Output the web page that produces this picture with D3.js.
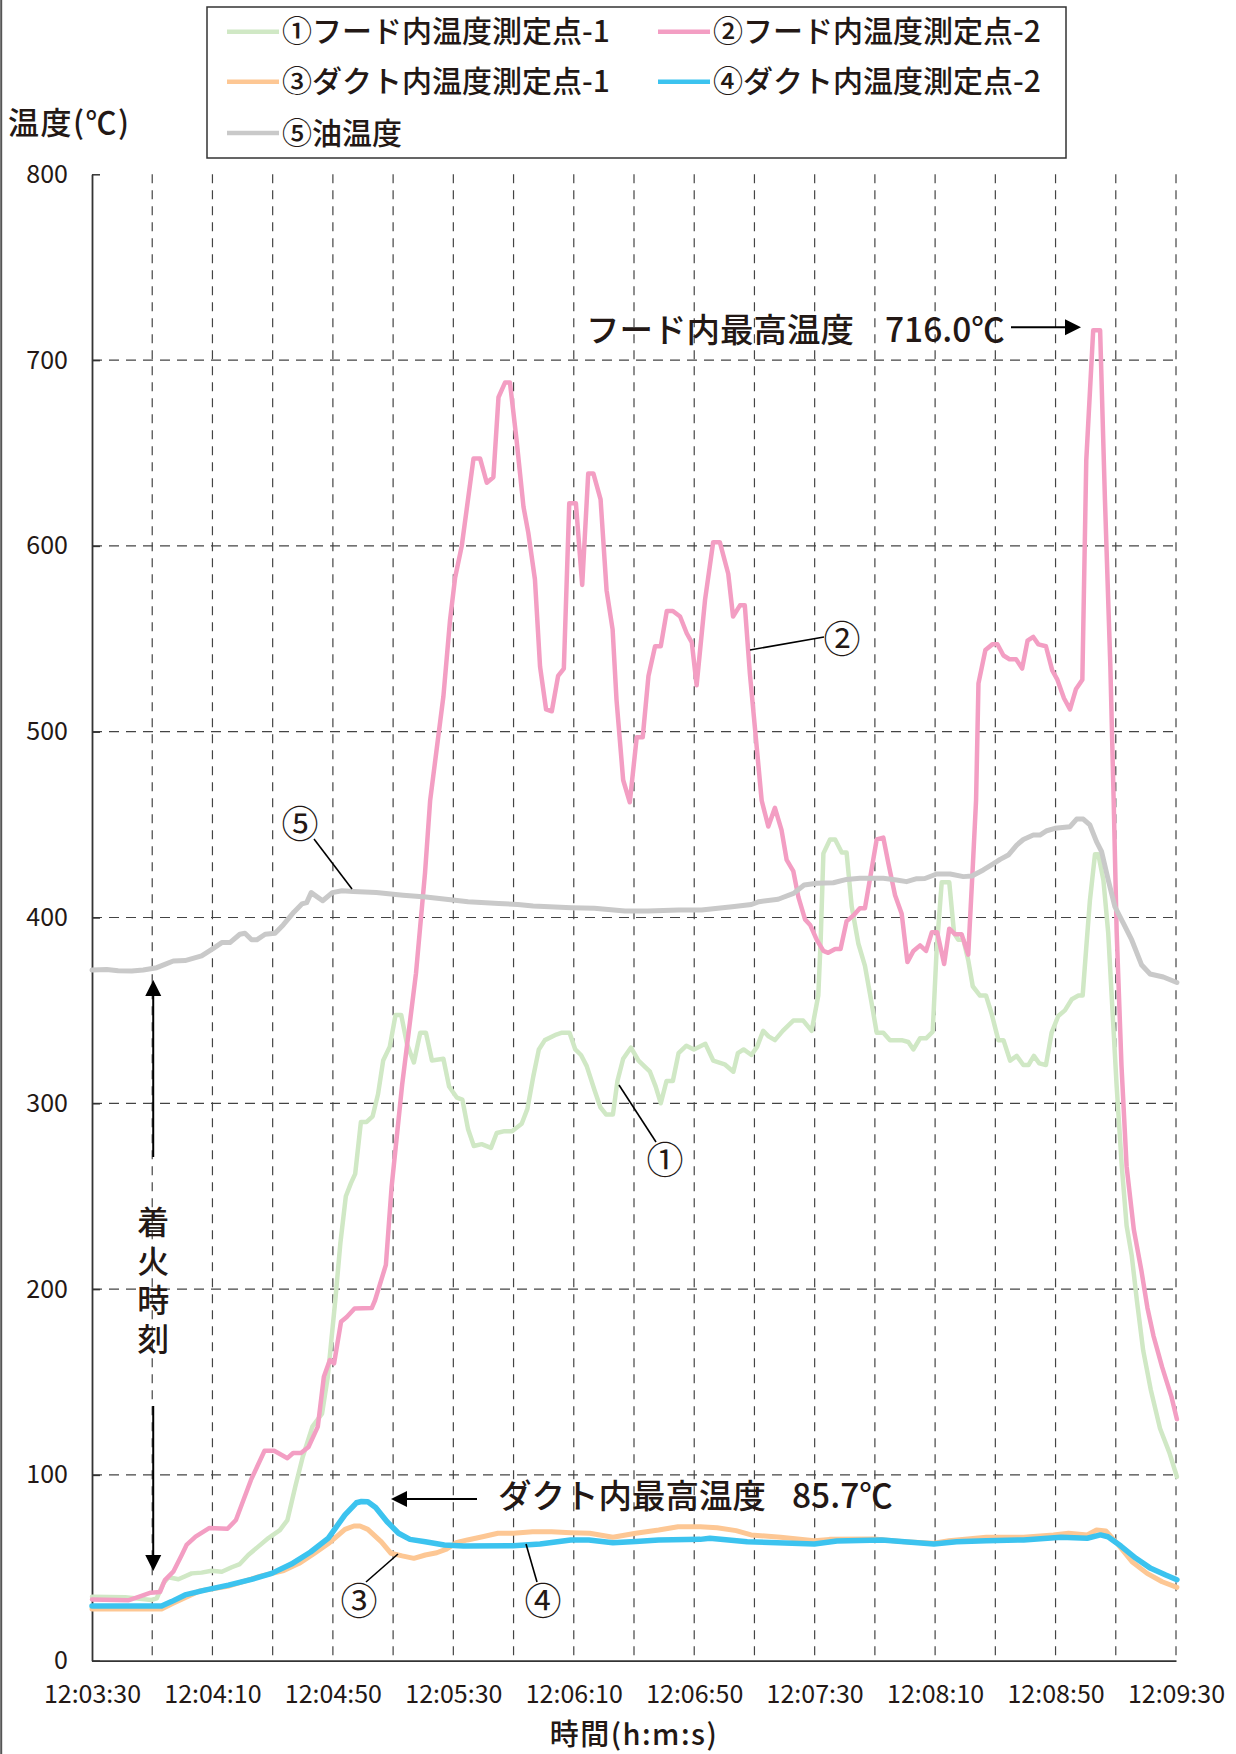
<!DOCTYPE html>
<html>
<head>
<meta charset="utf-8">
<script src="https://cdn.jsdelivr.net/npm/d3@7"></script>
<style>
  body { margin: 0; background: #fff; }
  text { font-family: "Noto Sans CJK JP", "Noto Sans", sans-serif; fill: #231815; }
</style>
</head>
<body>
<div id="chart"></div>
<script>

// CHART DATA  (seconds after 12:03:30, temperature in °C)

const seriesNames = ["①フード内温度測定点-1", "②フード内温度測定点-2", "③ダクト内温度測定点-1",
                     "④ダクト内温度測定点-2", "⑤油温度"];

const hood1 = [[0,34.4],[11,34.1],[19.8,32.7],[21.5,33.6],[23.7,41.7],[25.4,44.9],[28.7,43.8],[33.1,47],
  [36.4,47.4],[39.7,48.4],[43.1,47.9],[46.4,50.3],[49.1,52],[51.9,56.9],[55.2,61.4],[58.6,66],[62.4,70.3],
  [64.9,75.7],[67.5,93.6],[70,109.8],[73.2,126],[76.4,133],[78.3,152.8],[79.5,172.6],[80.8,194],[82.5,225],
  [84.3,250],[86,257],[87.4,262],[89.3,290],[91.2,290],[93.2,293],[95,305],[96.7,323],[98.9,330.5],
  [100.8,347.5],[102.7,347.5],[104.6,332],[106.9,322],[109,338],[110.9,338],[112.9,323],[116.7,324],
  [118.6,309],[121.2,303],[123,302],[124.9,286],[126.8,277],[129.4,278],[132.5,276],[134.4,284],[137,285],
  [139.5,285],[142.7,289],[144.6,297],[146.5,314],[148.4,329],[150.4,334],[154.2,337],[156.1,338],
  [158.6,338],[160.5,329],[162.4,326],[164.3,320],[166.9,307],[168.8,298],[170.7,294],[173,294],
  [174.5,312],[176.4,324],[179,330],[181.5,323],[185.3,317],[187.2,309],[188.9,300],[190.8,312],
  [192.9,312],[194.8,327],[197.4,331],[199.9,329],[203.7,332],[206.3,323],[210.1,321],[213,317],
  [214.5,327],[216.4,329],[219,326],[220.9,330.5],[222.9,339],[224.7,336],[226.8,334],[229.4,339],
  [232.9,344.5],[236.2,344.5],[239,339],[241.2,358],[242,388],[242.9,434.5],[245.1,442],[246.8,442],
  [249,435],[250.6,435],[252.3,406],[254.5,386],[256.7,374],[258.9,354],[260.6,338],[262.8,338],[265,334],
  [268.9,334],[271.1,333],[272.8,329],[275,335],[277,335],[279.2,338.5],[280.5,382.5],[282.2,419],
  [284.7,419],[286.3,391.5],[287.7,388],[289.4,388],[291,377],[292.5,363],[294.9,358],[296.9,358],
  [298.8,348],[301,334],[302.7,334],[304.9,323],[307.1,325.5],[309.3,320.6],[311,320.6],[312.8,325.5],
  [314.6,321.5],[316.8,320.6],[318.7,338],[320.9,347],[323.1,350],[325.4,356],[327.6,358],[329,358],
  [330.3,386],[331.4,409],[333.1,434],[334.2,434],[335.9,420],[337.5,391.5],[338.7,356],[340.3,309],
  [342,266],[343.6,234],[345.3,218],[347,194],[349.1,167],[351.6,146],[354.7,125],[357.8,112],[360.3,99]];

const hood2 = [[0,33],[12,32.5],[15.5,34.4],[19.5,36.6],[22.6,37],[24.2,43.4],[27,47.9],[29.8,56.9],
  [31.4,62.3],[34.4,66.8],[38.9,71.4],[45,71],[47.8,75.7],[52.8,97.3],[57.3,113],[60.5,113],[64.9,109],
  [66.8,111.8],[69.4,111.8],[71.9,115],[75,126],[77,152.8],[79,161.8],[80.4,160],[82.7,182.4],[84.6,185],
  [87.2,189.6],[92.9,189.8],[94,194],[97.6,213],[99.5,255],[103,310],[107.6,370],[110.6,424],[112.3,463],
  [116.7,519],[118.9,560],[120.6,583],[122.8,600],[126.7,647],[128.9,647],[131.1,634],[133.3,637],
  [135,680],[137.2,688],[138.8,688],[141,657],[143.3,621],[144.9,607],[147.1,582],[148.8,535],
  [150.8,512],[152.7,511],[154.8,530],[156.7,534],[158.5,623],[160.7,623],[162.8,579],[164.8,639],
  [166.5,639],[168.9,625],[170.9,576],[172.9,555],[174.2,517],[176.4,474],[178.6,462],[180.9,497],
  [182.9,497],[184.8,530],[187,546],[188.9,546],[190.9,565],[192.9,565],[195.3,562],[197.5,553],
  [199.2,548],[200.8,525],[203.6,571],[206.3,602],[208.5,602],[211.3,585],[212.9,562],[215.2,568],
  [216.8,568],[218.5,531],[222.4,463],[224.6,449],[226.8,459],[229,447],[230.7,431],[232.9,425],
  [234.6,411],[236.8,399],[238.5,396],[240.7,388],[242.9,382],[244.5,381],[246.8,383],[248.6,383],
  [250.6,398],[252.8,401],[255,405],[256.7,405],[258.4,421],[260.6,442],[262.8,443],[264.5,429],
  [266.7,412],[268.9,402],[270.8,376],[272.8,382],[275,385],[277,382],[278.9,392],[280.7,392],[283,375],
  [284.7,394],[286.6,391],[288.8,391],[291,380],[292.5,427],[293.6,463],[294.4,526],[296.7,544],[299,547],
  [300.7,547],[302.7,541],[304.7,539],[306.9,539],[308.9,534],[310.7,549],[312.6,551],[314.3,547],
  [316.8,546],[318.9,533],[320.6,528],[322.8,518],[324.8,512],[326.8,523],[328.9,528],[330.2,646],
  [332.5,716],[334.8,716],[336.4,625],[338.2,535],[339.3,463],[340.3,392],[341.9,320],[343.6,266],
  [346,232],[348.5,210],[350.5,190],[352.5,175],[355.4,158],[358.5,142],[360.3,130]];

const duct1 = [[0,27.8],[23.1,27.8],[26.4,30.5],[35.7,37.5],[45,40],[56,45.5],[63.7,48.5],[68.8,52.4],
  [73.8,57.8],[78.9,63.5],[84,70.7],[87,72.5],[89,72.5],[91.6,70.7],[96.1,64],[99.3,57.8],[103,56.4],
  [106.9,55.1],[110.7,56.9],[114.5,58.1],[117.7,60],[120.9,63.5],[124.7,65],[129.7,66.7],[134.8,68.6],
  [140,68.6],[146.3,69.4],[152.6,69.4],[159,68.9],[165.3,68.6],[173,66.4],[180.6,68.6],[188.2,70.3],
  [194.6,72.1],[202,72.1],[207.6,71.6],[213.9,70],[218.9,67.7],[228.7,66.4],[239.9,64.6],[244.9,65.3],
  [259.8,65.5],[269.7,64],[279.6,63.2],[284.6,64.6],[297,66.4],[309.4,66.4],[319.3,67.7],[324.3,68.6],
  [330.5,67.7],[333.6,70.3],[336.7,69.8],[340.4,63.2],[345.4,53.3],[350.4,47],[355.4,42.5],[360.3,39.5]];

const duct2 = [[0,29.4],[23.1,29.4],[26.4,31.8],[30.9,35.4],[37.5,38],[45.3,40.7],[53,43.8],[59.7,47],
  [66.2,52],[72.6,58.5],[78.5,66],[84,78.5],[87.8,85],[89.5,85.7],[91.6,85.5],[94.2,82.5],[98,74.8],
  [101.8,68.6],[105.6,65.3],[110.7,64],[117,62.3],[123.4,61.7],[139.9,61.9],[148.8,62.8],[159,65],
  [165,65],[173,63.5],[180.6,64.2],[188.2,65],[202,65.3],[205.2,65.9],[217.6,64],[239.9,62.8],
  [247.4,64.4],[262.3,65],[279.6,62.8],[287.1,64],[297,64.6],[309.4,65],[321.8,66.4],[330.5,65.9],
  [334.9,67.7],[337.4,66.7],[341.7,61.7],[346.7,55.1],[351.6,49.7],[356.6,46.1],[360.3,43.6]];

const oil = [[0,371.7],[4.9,372],[8.7,371.4],[13.2,371.2],[17,371.7],[21.5,373],[24.2,374.8],[27,376.6],
  [30.9,376.8],[36.4,379.3],[40.3,383.4],[43.1,386.5],[45.8,386.5],[49.1,391],[50.8,391.5],[53,388],
  [54.7,388],[57.5,391],[60.8,391.5],[63.5,396],[67.1,403],[69.7,407.3],[71.3,408],[72.8,413.4],
  [76.6,409],[79.8,413.4],[83,414.4],[86.8,414],[94.4,413.4],[103.3,412],[110.9,411],[119.8,409.4],
  [124.9,408.5],[135.1,407.6],[141.4,407],[146.5,406.2],[159.2,405.3],[166.8,405],[177,403.5],
  [184.6,403.5],[194.8,404],[202.4,404],[212.6,405.8],[219,407],[221.5,408.5],[227.9,409.8],
  [229.6,410.9],[233,413],[236.5,417.5],[240.7,418.4],[246.2,418.7],[250.6,420.5],[255,421.1],
  [262.8,421.1],[267.2,420.2],[270.5,419.3],[273.9,420.9],[276.6,421],[280.5,423.4],[285,423.4],
  [289.4,422],[292.2,422.3],[296,425.6],[299.4,429],[301.6,431.3],[304.3,433.6],[307.1,439],[309.3,442],
  [312.6,444.4],[314.8,444.4],[317.1,446.7],[319.8,448],[324.8,448.9],[327,453],[329.2,453],
  [331.4,449.8],[333.6,440.8],[335.3,435.4],[337.5,420.2],[339.7,405.8],[342.5,397],[345.3,387.9],
  [348.6,374.4],[351.4,369.6],[355.8,368],[360.3,365]];

const yTicks = [0, 100, 200, 300, 400, 500, 600, 700, 800];
const xLabelSecs = [0, 40, 80, 120, 160, 200, 240, 280, 320, 360];
const xGridSecs = d3.range(20, 361, 20);


// LAYOUT

const FRAME_WIDTH = 1236;
const FRAME_HEIGHT = 1754;
const MARGINS = {left: 92, right: 60, top: 174.3, bottom: 93.3};

const COLORS = ["#d0e8c5", "#f39ec3", "#fdc794", "#3cc3ef", "#c9c9c9"];
const WIDTHS = [4.5, 4.5, 5, 5.5, 5];

const svg = d3.select("#chart")
  .append("svg")
    .attr("width", FRAME_WIDTH)
    .attr("height", FRAME_HEIGHT);

svg.append("rect")
  .attr("width", FRAME_WIDTH)
  .attr("height", FRAME_HEIGHT)
  .attr("fill", "#fff");

// thin frame line on the left edge
svg.append("line")
  .attr("x1", 1.2).attr("x2", 1.2)
  .attr("y1", 0).attr("y2", FRAME_HEIGHT)
  .attr("stroke", "#555").attr("stroke-width", 2);

const T0 = new Date(2000, 0, 1, 12, 3, 30);
const toTime = (s) => new Date(T0.getTime() + s * 1000);

const x = d3.scaleTime()
  .domain([T0, toTime(360)])
  .range([MARGINS.left, FRAME_WIDTH - MARGINS.right]);

const y = d3.scaleLinear()
  .domain([0, 800])
  .range([FRAME_HEIGHT - MARGINS.bottom, MARGINS.top]);


// GRID

svg.append("g")
  .selectAll("line")
  .data(yTicks.filter(d => d > 0 && d < 800))
  .enter()
  .append("line")
    .attr("x1", x.range()[0]).attr("x2", x.range()[1])
    .attr("y1", d => y(d)).attr("y2", d => y(d))
    .attr("stroke", "#444").attr("stroke-width", 1.2)
    .attr("stroke-dasharray", "10,7");

svg.append("g")
  .selectAll("line")
  .data(xGridSecs)
  .enter()
  .append("line")
    .attr("x1", d => x(toTime(d))).attr("x2", d => x(toTime(d)))
    .attr("y1", y(800)).attr("y2", y(0))
    .attr("stroke", "#444").attr("stroke-width", 1.2)
    .attr("stroke-dasharray", "9,7");


// AXES

const yAxis = svg.append("g")
  .attr("transform", `translate(${x.range()[0]},0)`)
  .call(d3.axisLeft(y).tickValues(yTicks).tickSize(-8).tickSizeOuter(0).tickPadding(24));

const xAxis = svg.append("g")
  .attr("transform", `translate(0,${y(0)})`)
  .call(d3.axisBottom(x).tickValues(xLabelSecs.map(toTime))
          .tickFormat(d3.timeFormat("%H:%M:%S")).tickSize(0).tickPadding(25));

[yAxis, xAxis].forEach(g => {
  g.select(".domain").attr("stroke", "#333").attr("stroke-width", 1.8);
  g.selectAll(".tick line").attr("stroke", "#333").attr("stroke-width", 1.5);
  g.selectAll(".tick text")
    .attr("fill", "#231815")
    .style("font-family", "'Noto Sans CJK JP', sans-serif")
    .style("font-size", "25px");
});

svg.append("text")
  .attr("x", 8).attr("y", 134)
  .attr("font-size", 31)
  .attr("font-weight", 500)
  .attr("letter-spacing", 1.5)
  .text("温度(℃)");

svg.append("text")
  .attr("x", 634).attr("y", 1745)
  .attr("text-anchor", "middle")
  .attr("font-size", 29)
  .attr("font-weight", 500)
  .attr("letter-spacing", 1.5)
  .text("時間(h:m:s)");


// LINES

const line = d3.line()
  .x(d => x(toTime(d[0])))
  .y(d => y(d[1]));

const allSeries = [hood1, hood2, oil, duct1, duct2];
const seriesIdx = [0, 1, 4, 2, 3];

svg.append("g")
  .selectAll("path")
  .data(allSeries)
  .enter()
  .append("path")
    .attr("d", line)
    .attr("fill", "none")
    .attr("stroke", (d, i) => COLORS[seriesIdx[i]])
    .attr("stroke-width", (d, i) => WIDTHS[seriesIdx[i]])
    .attr("stroke-linejoin", "round")
    .attr("stroke-linecap", "round");


// LEGEND

svg.append("rect")
  .attr("x", 207).attr("y", 7)
  .attr("width", 859).attr("height", 151)
  .attr("fill", "#fff")
  .attr("stroke", "#333").attr("stroke-width", 1.5);

const legendCols = [227, 658];
const legendRows = [31.7, 81.7, 133];

const legend = svg.append("g")
  .selectAll("g")
  .data(seriesNames)
  .enter()
  .append("g")
    .attr("transform", (d, i) => `translate(${legendCols[i % 2]},${legendRows[Math.floor(i / 2)]})`);

legend.append("line")
  .attr("x1", 0).attr("x2", 52)
  .attr("stroke", (d, i) => COLORS[i])
  .attr("stroke-width", 4.5);

legend.append("text")
  .attr("x", 55).attr("y", 10.5)
  .attr("font-size", 30)
  .attr("font-weight", 500)
  .text(d => d);


// ANNOTATIONS

function arrow(x1, y1, x2, y2, size) {
  const a = Math.atan2(y2 - y1, x2 - x1);
  const hw = size * 0.5;
  svg.append("line")
    .attr("x1", x1).attr("y1", y1)
    .attr("x2", x2 - Math.cos(a) * size * 0.9).attr("y2", y2 - Math.sin(a) * size * 0.9)
    .attr("stroke", "#000").attr("stroke-width", 2);
  const bx = x2 - Math.cos(a) * size, by = y2 - Math.sin(a) * size;
  svg.append("path")
    .attr("d", `M${x2},${y2} L${bx - Math.sin(a) * hw},${by + Math.cos(a) * hw} L${bx + Math.sin(a) * hw},${by - Math.cos(a) * hw} Z`)
    .attr("fill", "#000");
}

// peak in hood
svg.append("text").attr("x", 586).attr("y", 342).attr("font-size", 33.5).attr("font-weight", 500)
  .text("フード内最高温度");
svg.append("text").attr("x", 885).attr("y", 342).attr("font-size", 33.5).attr("font-weight", 500)
  .text("716.0℃");
arrow(1011, y(716) - 3, 1081, y(716) - 3, 16);

// peak in duct
svg.append("text").attr("x", 498).attr("y", 1508).attr("font-size", 33.5).attr("font-weight", 500)
  .text("ダクト内最高温度");
svg.append("text").attr("x", 792).attr("y", 1508).attr("font-size", 33.5).attr("font-weight", 500)
  .text("85.7℃");
arrow(477, 1499, 391, 1499, 16);

// ignition time (vertical text)
const xIgn = x(toTime(20)) + 1;
arrow(xIgn, 1157, xIgn, 980, 16);
arrow(xIgn, 1406, xIgn, 1571, 16);
svg.append("text")
  .attr("x", xIgn)
  .attr("y", 1206)
  .attr("font-size", 32)
  .attr("font-weight", 500)
  .attr("letter-spacing", 7)
  .style("writing-mode", "vertical-rl")
  .style("glyph-orientation-vertical", 0)
  .text("着火時刻");

// circled series labels with leader lines
const callouts = [
  {label: "①", cx: 665, cy: 1158, x1: 619, y1: 1085, x2: 656, y2: 1142},
  {label: "②", cx: 842, cy: 637, x1: 750, y1: 650, x2: 824, y2: 637},
  {label: "③", cx: 359, cy: 1599, x1: 398, y1: 1554, x2: 366, y2: 1582},
  {label: "④", cx: 543, cy: 1599, x1: 526, y1: 1544, x2: 537, y2: 1582},
  {label: "⑤", cx: 300, cy: 822, x1: 314, y1: 839, x2: 352, y2: 889}
];

svg.append("g")
  .selectAll("line")
  .data(callouts)
  .enter()
  .append("line")
    .attr("x1", d => d.x1).attr("y1", d => d.y1)
    .attr("x2", d => d.x2).attr("y2", d => d.y2)
    .attr("stroke", "#000").attr("stroke-width", 1.6);

svg.append("g")
  .selectAll("text")
  .data(callouts)
  .enter()
  .append("text")
    .attr("x", d => d.cx).attr("y", d => d.cy)
    .attr("text-anchor", "middle")
    .attr("dominant-baseline", "central")
    .attr("font-size", 37)
    .text(d => d.label);

</script>
</body>
</html>
